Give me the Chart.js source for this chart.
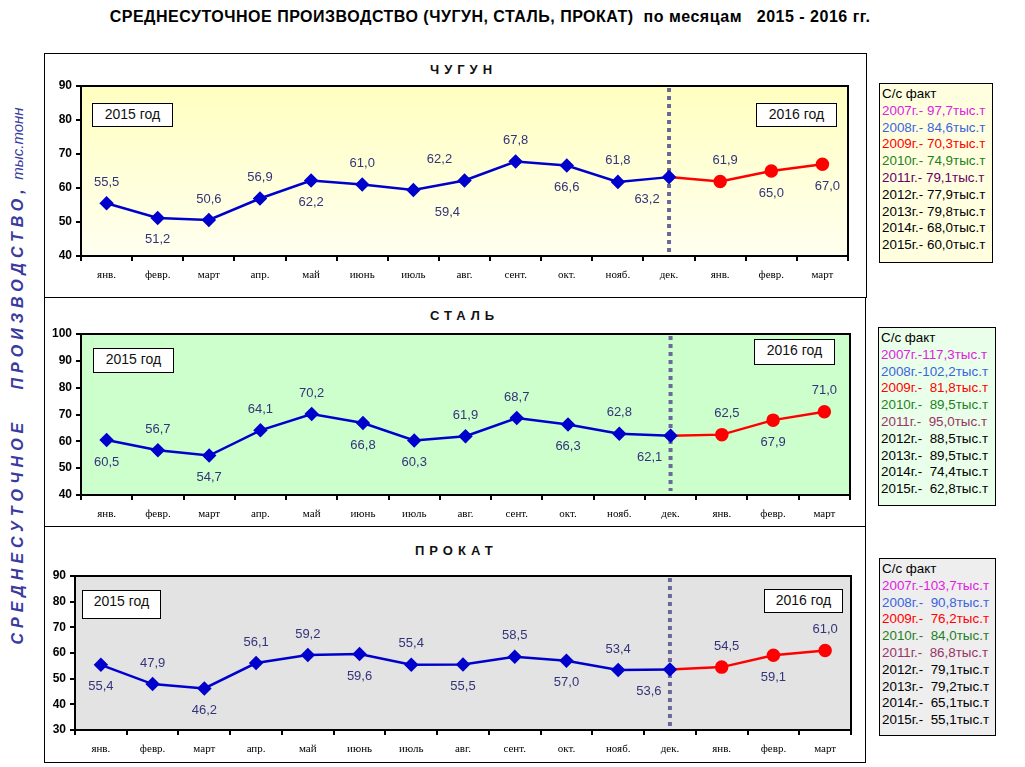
<!DOCTYPE html>
<html>
<head>
<meta charset="utf-8">
<script src="https://cdn.jsdelivr.net/npm/chart.js@4.4.1/dist/chart.umd.min.js"></script>
<style>
  body { margin: 0; background: #fff; }
  #page { position: relative; width: 1025px; height: 767px; overflow: hidden; font-family: "Liberation Sans", Arial, sans-serif; }
  .abs { position: absolute; }
  .panel { position: absolute; border: 1px solid #000; box-sizing: border-box; }
  .ptitle { position: absolute; font-weight: bold; font-size: 13px; letter-spacing: 5px; color: #111; }
  .year { position: absolute; background: #fff; border: 1px solid #000; box-sizing: border-box;
          font-size: 14px; text-align: center; line-height: 21px; color: #111; z-index: 2; }
  .legend { position: absolute; border: 1px solid #000; box-sizing: border-box; font-size: 13.4px;
            line-height: 16.8px; padding: 2px 0 0 2px; white-space: pre; }
  canvas { position: absolute; z-index: 1; }
</style>
</head>
<body>
<div id="page">
  <div class="abs" style="left:0;top:8px;width:980px;text-align:center;font-weight:bold;font-size:16px;letter-spacing:0.5px;white-space:pre;">СРЕДНЕСУТОЧНОЕ ПРОИЗВОДСТВО (ЧУГУН, СТАЛЬ, ПРОКАТ)  по месяцам   2015 - 2016 гг.</div>
  <div class="abs" style="left:-257px;top:366px;width:550px;height:20px;line-height:20px;transform:rotate(-90deg);text-align:center;color:#3a3aa0;font-size:16px;white-space:pre;"><span style="font-weight:bold;font-style:italic;letter-spacing:5px;">СРЕДНЕСУТОЧНОЕ   ПРОИЗВОДСТВО,</span> <span style="font-style:italic;font-size:15px;">тыс.тонн</span></div>
</div>
<script>
// months: 2015 Jan..Dec, then 2016 Jan..Mar
var months = ['янв.', 'февр.', 'март', 'апр.', 'май', 'июнь', 'июль', 'авг.', 'сент.', 'окт.', 'нояб.', 'дек.', 'янв.', 'февр.', 'март'];

// ЧУГУН
var chugun2015 = [55.5, 51.2, 50.6, 56.9, 62.2, 61.0, 59.4, 62.2, 67.8, 66.6, 61.8, 63.2];
var chugun2016 = [61.9, 65.0, 67.0];
var chugunTicks = [40, 90];
var chugunFact = ['С/с факт', '2007г.- 97,7тыс.т', '2008г.- 84,6тыс.т', '2009г.- 70,3тыс.т', '2010г.- 74,9тыс.т',
  '2011г.- 79,1тыс.т', '2012г.- 77,9тыс.т', '2013г.- 79,8тыс.т', '2014г.- 68,0тыс.т', '2015г.- 60,0тыс.т'];

// СТАЛЬ
var stal2015 = [60.5, 56.7, 54.7, 64.1, 70.2, 66.8, 60.3, 61.9, 68.7, 66.3, 62.8, 62.1];
var stal2016 = [62.5, 67.9, 71.0];
var stalTicks = [40, 100];
var stalFact = ['С/с факт', '2007г.-117,3тыс.т', '2008г.-102,2тыс.т', '2009г.-  81,8тыс.т', '2010г.-  89,5тыс.т',
  '2011г.-  95,0тыс.т', '2012г.-  88,5тыс.т', '2013г.-  89,5тыс.т', '2014г.-  74,4тыс.т', '2015г.-  62,8тыс.т'];

// ПРОКАТ
var prokat2015 = [55.4, 47.9, 46.2, 56.1, 59.2, 59.6, 55.4, 55.5, 58.5, 57.0, 53.4, 53.6];
var prokat2016 = [54.5, 59.1, 61.0];
var prokatTicks = [30, 90];
var prokatFact = ['С/с факт', '2007г.-103,7тыс.т', '2008г.-  90,8тыс.т', '2009г.-  76,2тыс.т', '2010г.-  84,0тыс.т',
  '2011г.-  86,8тыс.т', '2012г.-  79,1тыс.т', '2013г.-  79,2тыс.т', '2014г.-  65,1тыс.т', '2015г.-  55,1тыс.т'];

// where each value label sits: a = above, b = below, plus a small sideways shift
var chugunPlace = ['a','b','a','a','b','a','b','a','a','b','a','b','a','b','b'];
var chugunShift = [0,0,0,0,0,0,34,-25,0,0,0,-22,5,0,5];
var stalPlace = ['b','a','b','a','a','b','b','a','a','b','a','b','a','b','a'];
var stalShift = [0,0,0,0,0,0,0,0,0,0,0,-21,5,0,0];
var prokatPlace = ['b','a','b','a','a','b','a','b','a','b','a','b','a','b','a'];
var prokatShift = [0,0,0,0,0,0,0,0,0,0,0,-21,5,0,0];

var factColors = ['#000', '#e020e0', '#3b63e0', '#ff0000', '#1f7f1f', '#993366', '#000', '#000', '#000', '#000'];

function fmt(v) { return v.toFixed(1).replace('.', ','); }

var decor = {
  id: 'decor',
  beforeDraw: function(chart, args, o) {
    var a = chart.chartArea, ctx = chart.ctx;
    ctx.save();
    var g = ctx.createLinearGradient(0, a.top, 0, a.bottom);
    g.addColorStop(0, o.bg[0]);
    g.addColorStop(1, o.bg[1]);
    ctx.fillStyle = g;
    ctx.fillRect(a.left, a.top, a.right - a.left, a.bottom - a.top);
    ctx.restore();
  },
  beforeDatasetsDraw: function(chart, args, o) {
    var a = chart.chartArea, ctx = chart.ctx;
    var x = chart.scales.x.getPixelForValue(11);
    ctx.save();
    ctx.strokeStyle = '#6a6a9a';
    ctx.lineWidth = 4;
    ctx.setLineDash([4, 4]);
    ctx.beginPath();
    ctx.moveTo(x, a.top + 2);
    ctx.lineTo(x, a.bottom - 4);
    ctx.stroke();
    ctx.restore();
  },
  afterDraw: function(chart, args, o) {
    var a = chart.chartArea, ctx = chart.ctx;
    ctx.save();
    ctx.strokeStyle = '#000';
    ctx.lineWidth = 2;
    ctx.strokeRect(a.left, a.top, a.right - a.left, a.bottom - a.top);
    ctx.font = '13px "Liberation Sans", Arial, sans-serif';
    ctx.fillStyle = '#33337a';
    ctx.textAlign = 'center';
    ctx.textBaseline = 'middle';
    chart.data.datasets.forEach(function(ds, di) {
      var meta = chart.getDatasetMeta(di);
      meta.data.forEach(function(pt, i) {
        var v = ds.data[i];
        if (v == null || (di == 1 && i == 11)) return;
        var dy = o.place[i] == 'a' ? -21 : 22;
        ctx.fillText(fmt(v), pt.x + o.shift[i], pt.y + dy);
      });
    });
    ctx.restore();
  }
};

function makePanel(p) {
  var page = document.getElementById('page');
  var box = document.createElement('div');
  box.className = 'panel';
  box.style.cssText = 'left:' + p.left + 'px;top:' + p.top + 'px;width:' + p.w + 'px;height:' + p.h + 'px;';
  page.appendChild(box);

  var c = document.createElement('canvas');
  c.width = p.w; c.height = p.h;
  c.style.left = p.left + 'px'; c.style.top = p.top + 'px';
  page.appendChild(c);

  var t = document.createElement('div');
  t.className = 'ptitle';
  t.style.cssText = 'left:' + p.titleX + 'px;top:' + p.titleY + 'px;';
  t.textContent = p.title;
  page.appendChild(t);

  p.years.forEach(function(y, k) {
    var d = document.createElement('div');
    d.className = 'year';
    d.style.cssText = 'left:' + y[0] + 'px;top:' + y[1] + 'px;width:' + y[2] + 'px;height:' + y[3] + 'px;';
    d.textContent = k == 0 ? '2015 год' : '2016 год';
    page.appendChild(d);
  });

  var lg = document.createElement('div');
  lg.className = 'legend';
  lg.style.cssText = 'left:' + p.lg[0] + 'px;top:' + p.lg[1] + 'px;width:' + p.lg[2] + 'px;height:' + p.lg[3] + 'px;background:' + p.lgBg + ';';
  p.fact.forEach(function(s, k) {
    var line = document.createElement('div');
    line.textContent = s;
    line.style.color = factColors[k];
    lg.appendChild(line);
  });
  if (p.dark2011) lg.children[5].style.color = '#660066';
  page.appendChild(lg);

  var blue = p.v2015.concat([null, null, null]);
  var red = [];
  for (var i = 0; i < 11; i++) red.push(null);
  red = red.concat([p.v2015[11]]).concat(p.v2016);

  new Chart(c, {
    type: 'line',
    data: {
      labels: months,
      datasets: [{
        data: blue,
        borderColor: '#0000cc',
        backgroundColor: '#0000cc',
        borderWidth: 2.5,
        pointStyle: 'rectRot',
        pointRadius: 5.5,
        pointHoverRadius: 5.5,
        tension: 0
      }, {
        data: red,
        borderColor: '#ff0000',
        backgroundColor: '#ff0000',
        borderWidth: 2.5,
        pointStyle: 'circle',
        pointRadius: red.map(function(v, i) { return i == 11 ? 0 : 5.5; }),
        tension: 0
      }]
    },
    options: {
      responsive: false,
      animation: false,
      devicePixelRatio: 1,
      layout: { padding: p.pad },
      plugins: {
        legend: { display: false },
        tooltip: { enabled: false },
        decor: { bg: p.bg, place: p.place, shift: p.shift }
      },
      scales: {
        x: {
          offset: true,
          grid: { display: true, drawOnChartArea: false, drawTicks: true, tickLength: 5, color: '#000', lineWidth: 2, offset: true },
          border: { color: '#000', width: 2 },
          ticks: { color: '#000', padding: 8, maxRotation: 0, autoSkip: false,
                   font: { family: '"Liberation Serif", "Times New Roman", serif', size: 11 } },
          afterFit: function(s) { s.height = 28; }
        },
        y: {
          min: p.ticks[0],
          max: p.ticks[1],
          grid: { display: true, drawOnChartArea: false, drawTicks: true, tickLength: 5, color: '#000', lineWidth: 2 },
          border: { color: '#000', width: 2 },
          ticks: { stepSize: 10, color: '#000', padding: 4,
                   font: { family: '"Liberation Sans", Arial, sans-serif', size: 12, weight: 'bold' } },
          afterFit: function(s) { s.width = p.yw; }
        }
      }
    },
    plugins: [decor]
  });
}

makePanel({
  left: 44, top: 53, w: 823, h: 245, yw: 37,
  pad: { top: 33, right: 19, bottom: 14, left: 0 },
  title: 'ЧУГУН', titleX: 430, titleY: 62,
  v2015: chugun2015, v2016: chugun2016, ticks: chugunTicks,
  place: chugunPlace, shift: chugunShift,
  bg: ['#ffffc0', '#fffff0'],
  years: [[92, 103, 81, 24], [756, 103, 81, 24]],
  lg: [879, 83, 114, 180], lgBg: '#ffffe0', fact: chugunFact, dark2011: true
});

makePanel({
  left: 44, top: 297, w: 822, h: 230, yw: 37,
  pad: { top: 37, right: 16, bottom: 4, left: 0 },
  title: 'СТАЛЬ', titleX: 430, titleY: 308,
  v2015: stal2015, v2016: stal2016, ticks: stalTicks,
  place: stalPlace, shift: stalShift,
  bg: ['#ccffcc', '#ccffcc'],
  years: [[93, 348, 81, 25], [754, 339, 81, 26]],
  lg: [878, 327, 118, 179], lgBg: '#eaffea', fact: stalFact
});

makePanel({
  left: 44, top: 526, w: 822, h: 237, yw: 31,
  pad: { top: 50, right: 15, bottom: 5, left: 0 },
  title: 'ПРОКАТ', titleX: 415, titleY: 543,
  v2015: prokat2015, v2016: prokat2016, ticks: prokatTicks,
  place: prokatPlace, shift: prokatShift,
  bg: ['#e3e3e3', '#e3e3e3'],
  years: [[82, 590, 79, 29], [764, 589, 79, 24]],
  lg: [879, 558, 117, 178], lgBg: '#eeeeee', fact: prokatFact
});
</script>
</body>
</html>
